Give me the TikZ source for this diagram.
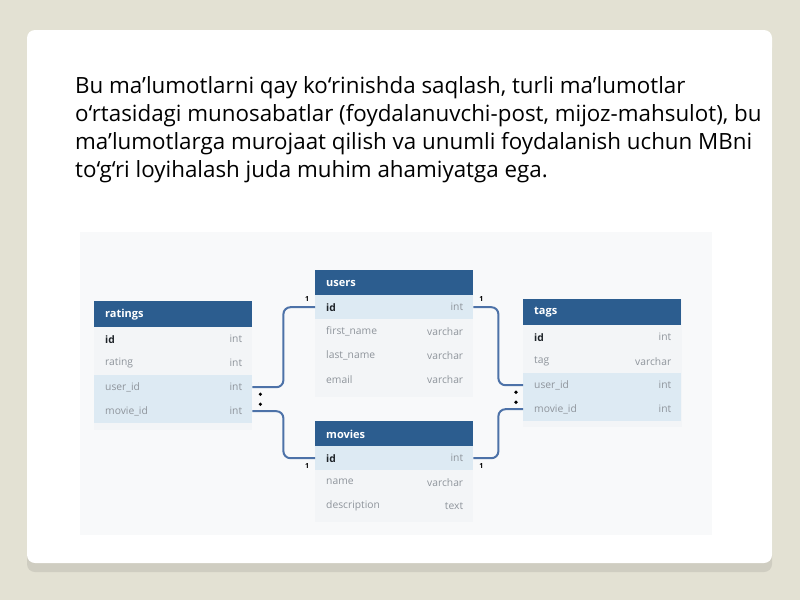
\documentclass[tikz,border=0pt]{standalone}
\usepackage{fontspec}
\setmainfont{Open Sans}
\definecolor{bgc}{HTML}{E3E1D3}
\definecolor{shadowc}{HTML}{CFCDC1}
\definecolor{hdrblue}{HTML}{2C5D8F}
\definecolor{hilite}{HTML}{DDEAF3}
\definecolor{bodyc}{HTML}{F3F5F7}
\definecolor{areac}{HTML}{F8F9FA}
\definecolor{connc}{HTML}{4D72A8}
\definecolor{grayt}{HTML}{8E949B}
\definecolor{darkt}{HTML}{1E2328}
\tikzset{
  ptext/.style={anchor=base west, inner sep=0, text=black, font=\fontsize{22.35}{27}\selectfont},
  ehdr/.style={anchor=north west, fill=hdrblue, minimum width=158, minimum height=26, text width=136, inner xsep=11, inner ysep=0, align=left, text=white, font=\bfseries\fontsize{11}{13}\selectfont},
  erow/.style={anchor=north west, minimum width=158, minimum height=24, text width=136, inner xsep=11, inner ysep=0, align=left, text=grayt, font=\fontsize{10.3}{12}\selectfont},
  hl/.style={fill=hilite},
  keyf/.style={text=darkt, font=\bfseries\fontsize{10.3}{12}\selectfont},
  etype/.style={anchor=east, inner sep=0, text=grayt, font=\fontsize{10.3}{12}\selectfont},
  ebody/.style={fill=bodyc},
  conn/.style={draw=connc, line width=2, rounded corners=7},
  one/.style={inner sep=0, text=black, font=\bfseries\fontsize{7}{8}\selectfont},
  crow/.style={fill=black}
}
\newcommand\typeat[2]{\node[etype] at ([xshift=-10]#1.east) {#2};}
\begin{document}
\begin{tikzpicture}[x=1pt,y=-1pt]
\useasboundingbox (0,0) rectangle (800,600);
\fill[bgc] (0,0) rectangle (800,600);
% card
\fill[shadowc, rounded corners=8] (27,40) rectangle (772,572);
\fill[white, rounded corners=8] (27,30) rectangle (772,563);
% paragraph
\node[ptext] (l1) at (75,93) {Bu ma’lumotlarni qay ko‘rinishda saqlash, turli ma’lumotlar};
\node[ptext] (l2) at (75,121) {o‘rtasidagi munosabatlar (foydalanuvchi-post, mijoz-mahsulot), bu};
\node[ptext] (l3) at (75,149) {ma’lumotlarga murojaat qilish va unumli foydalanish uchun MBni};
\node[ptext] (l4) at (75,177) {to‘g‘ri loyihalash juda muhim ahamiyatga ega.};
% diagram area
\fill[areac] (80,232) rectangle (712,535);
% table bodies
\fill[ebody] (94,301) rectangle (252,430);
\fill[ebody] (315,270) rectangle (473,397);
\fill[ebody] (315,421) rectangle (473,522);
\fill[ebody] (523,299) rectangle (682,427);
% ratings
\node[ehdr] (rh) at (94,301) {ratings};
\node[erow,keyf] (rid) at (94,327) {id}; \typeat{rid}{int}
\node[erow] (rrt) at (94,351) {rating}; \typeat{rrt}{int}
\node[erow,hl] (ruser) at (94,375) {user\_id}; \typeat{ruser}{int}
\node[erow,hl] (rmovie) at (94,399) {movie\_id}; \typeat{rmovie}{int}
% users
\node[ehdr] (uh) at (315,270) {users};
\node[erow,hl,keyf] (uid) at (315,295) {id}; \typeat{uid}{int}
\node[erow] (ufn) at (315,319) {first\_name}; \typeat{ufn}{varchar}
\node[erow] (uln) at (315,343) {last\_name}; \typeat{uln}{varchar}
\node[erow] (uem) at (315,367) {email}; \typeat{uem}{varchar}
% movies
\node[ehdr] (mh) at (315,421) {movies};
\node[erow,hl,keyf] (mid) at (315,446) {id}; \typeat{mid}{int}
\node[erow] (mnm) at (315,470) {name}; \typeat{mnm}{varchar}
\node[erow] (mds) at (315,494) {description}; \typeat{mds}{text}
% tags
\node[ehdr] (th) at (523,299) {tags};
\node[erow,keyf] (tid) at (523,325) {id}; \typeat{tid}{int}
\node[erow] (ttg) at (523,349) {tag}; \typeat{ttg}{varchar}
\node[erow,hl] (tuser) at (523,373) {user\_id}; \typeat{tuser}{int}
\node[erow,hl] (tmovie) at (523,397) {movie\_id}; \typeat{tmovie}{int}
% connectors
\draw[conn] (ruser.east) -- ++(31,0) |- (uid.west);
\draw[conn] (rmovie.east) -- ++(31,0) |- (mid.west);
\draw[conn] (uid.east) -- ++(25,0) |- (tuser.west);
\draw[conn] (mid.east) -- ++(25,0) |- (tmovie.west);
% many markers
\fill[crow] ([xshift=8,yshift=-7]ruser.east) circle (1.8);
\fill[crow] ([xshift=8,yshift=7]rmovie.east) circle (1.8);
\fill[crow] ([xshift=-7,yshift=-7]tuser.west) circle (1.8);
\fill[crow] ([xshift=-7,yshift=7]tmovie.west) circle (1.8);
% one markers
\node[one] (o1) at ([xshift=-8,yshift=8]uid.west) {1};
\node[one] (o2) at ([xshift=8,yshift=8]uid.east) {1};
\node[one] (o3) at ([xshift=-8,yshift=-8]mid.west) {1};
\node[one] (o4) at ([xshift=8,yshift=-8]mid.east) {1};
\end{tikzpicture}
\end{document}
